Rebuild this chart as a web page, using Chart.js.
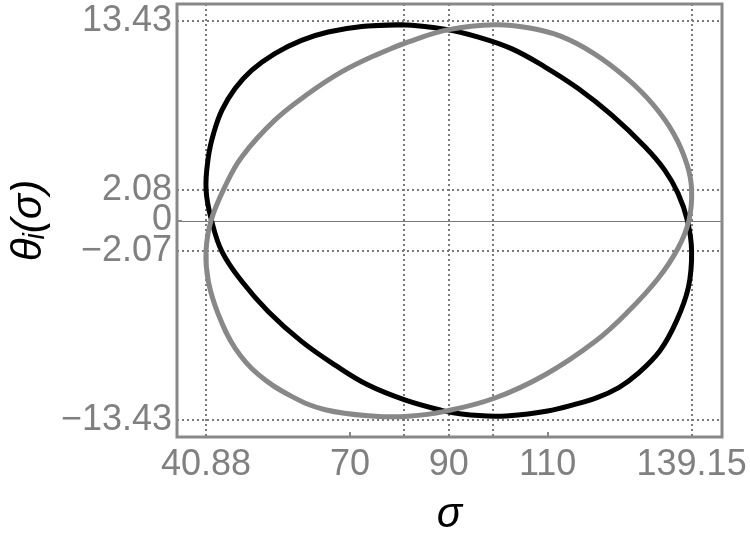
<!DOCTYPE html>
<html>
<head>
<meta charset="utf-8">
<script src="https://cdn.jsdelivr.net/npm/chart.js@4.4.1/dist/chart.umd.min.js"></script>
<style>
  html, body { margin: 0; padding: 0; background: #fff; }
  #wrap { width: 750px; height: 541px; position: relative; }
</style>
</head>
<body>
<div id="wrap"><canvas id="plot"></canvas></div>
<script>
// black curve (clockwise, first two points repeated to close)
const blackSigma = [72.4, 80.5, 89.2, 96.0, 102.7, 109.5, 116.2, 123.0, 129.7, 133.7, 136.4, 138.3, 139.15,
  138.5, 136.1, 132.7, 128.0, 124.5, 120.0, 115.0, 110.0, 104.5, 99.3, 92.6, 88.5, 81.1, 73.7, 67.0,
  60.2, 53.5, 48.1, 44.1, 42.0, 40.88, 41.35, 42.4, 44.1, 46.75, 50.1, 54.8, 60.2, 65.6, 72.4, 80.5];
const blackTheta = [13.09, 13.2, 12.9, 12.37, 11.59, 10.35, 8.9, 7.1, 4.97, 3.4, 1.83, 0.0, -2.07,
  -4.5, -6.77, -8.8, -10.4, -11.25, -11.95, -12.45, -12.85, -13.1, -13.2, -13.05, -12.8, -12.1, -11.1, -9.75,
  -8.15, -6.15, -4.1, -2.1, 0.0, 2.08, 4.29, 5.87, 7.44, 8.9, 10.13, 11.26, 12.15, 12.71, 13.09, 13.2];

// gray curve
const graySigma = [75.1, 81.8, 90.0, 99.35, 106.1, 112.5, 119.4, 126.0, 131.4, 135.5, 138.2, 139.15, 138.6,
  136.4, 132.4, 126.3, 119.6, 109.5, 99.35, 89.2, 81.8, 75.1, 65.0, 58.2, 51.5, 46.75, 43.4, 41.35,
  40.88, 41.9, 44.7, 48.1, 54.8, 61.6, 68.3, 75.1, 81.8];
const grayTheta = [11.14, 12.04, 12.87, 13.2, 13.0, 12.45, 11.26, 9.6, 7.8, 5.87, 3.8, 2.08, 0.0,
  -1.87, -3.89, -6.14, -8.16, -10.4, -11.97, -12.87, -13.2, -13.2, -12.76, -11.86, -10.4, -8.6, -6.36, -4.12,
  -2.07, 0.0, 2.28, 4.29, 6.77, 8.56, 10.02, 11.14, 12.04];

const xTicks = [40.88, 70, 90, 110, 139.15];
const xTickLabels = ["40.88", "70", "90", "110", "139.15"];
const yTicks = [-13.43, -2.07, 0, 2.08, 13.43];
const yTickLabels = ["\u221213.43", "\u22122.07", "0", "2.08", "13.43"];

// dotted guide lines
const xGuides = [40.88, 81, 90, 99, 139.15];
const yGuides = [-13.43, -2.07, 2.08, 13.43];

const toPoints = (xs, ys) => xs.map((x, i) => ({ x: x, y: ys[i] }));

const frame = {
  id: "frame",
  beforeDatasetsDraw(chart) {
    const { ctx, chartArea: a, scales: { x, y } } = chart;
    ctx.save();
    ctx.strokeStyle = "#7a7a7a";
    ctx.lineWidth = 2;
    ctx.setLineDash([2, 3]);
    xGuides.forEach(v => {
      const px = Math.round(x.getPixelForValue(v));
      ctx.beginPath(); ctx.moveTo(px, a.top); ctx.lineTo(px, a.bottom); ctx.stroke();
    });
    yGuides.forEach(v => {
      const py = Math.round(y.getPixelForValue(v));
      ctx.beginPath(); ctx.moveTo(a.left, py); ctx.lineTo(a.right, py); ctx.stroke();
    });
    ctx.setLineDash([]);
    ctx.strokeStyle = "#777";
    ctx.lineWidth = 1;
    const y0 = Math.round(y.getPixelForValue(0)) + 0.5;
    ctx.beginPath(); ctx.moveTo(a.left, y0); ctx.lineTo(a.right, y0); ctx.stroke();
    ctx.restore();
  },
  afterDraw(chart) {
    const { ctx, chartArea: a, scales: { x, y } } = chart;
    ctx.save();
    ctx.strokeStyle = "#888";
    ctx.lineWidth = 3;
    ctx.strokeRect(a.left, a.top, a.right - a.left, a.bottom - a.top);
    ctx.lineWidth = 2;
    [70, 110].forEach(v => {
      const px = Math.round(x.getPixelForValue(v));
      ctx.beginPath(); ctx.moveTo(px, a.bottom); ctx.lineTo(px, a.bottom - 5); ctx.stroke();
    });
    const py = Math.round(y.getPixelForValue(0));
    ctx.beginPath(); ctx.moveTo(a.left, py); ctx.lineTo(a.left + 5, py); ctx.stroke();
    ctx.restore();
  }
};

new Chart(document.getElementById("plot"), {
  type: "scatter",
  data: {
    datasets: [
      {
        label: "gray",
        data: toPoints(graySigma, grayTheta),
        showLine: true,
        borderColor: "#888",
        borderWidth: 5,
        pointRadius: 0,
        tension: 0.4,
      },
      {
        label: "black",
        data: toPoints(blackSigma, blackTheta),
        showLine: true,
        borderColor: "#000",
        borderWidth: 5,
        pointRadius: 0,
        tension: 0.4,
      },
    ],
  },
  options: {
    responsive: true,
    maintainAspectRatio: false,
    animation: false,
    layout: { padding: { top: 4, right: 28, bottom: 0, left: 0 } },
    plugins: { legend: { display: false }, tooltip: { enabled: false } },
    scales: {
      x: {
        type: "linear",
        min: 35,
        max: 145.3,
        grid: { display: false, drawTicks: false },
        border: { display: false },
        afterFit: s => { s.height = 104; s.paddingLeft = 0; s.paddingRight = 0; },
        afterBuildTicks: s => { s.ticks = xTicks.map(v => ({ value: v })); },
        ticks: {
          autoSkip: false,
          maxRotation: 0,
          padding: 6,
          color: "#808080",
          font: { family: "'Liberation Sans', Arial, sans-serif", size: 36 },
          callback: v => xTickLabels[xTicks.indexOf(v)],
        },
        title: {
          display: true,
          text: "σ",
          color: "#000",
          padding: { top: 0, bottom: 0 },
          font: { family: "'Liberation Sans', Arial, sans-serif", size: 42, style: "italic" },
        },
      },
      y: {
        type: "linear",
        min: -14.6,
        max: 14.6,
        grid: { display: false, drawTicks: false },
        border: { display: false },
        afterFit: s => { s.width = 177; s.paddingTop = 0; s.paddingBottom = 0; },
        afterBuildTicks: s => { s.ticks = yTicks.map(v => ({ value: v })); },
        ticks: {
          autoSkip: false,
          padding: 5,
          color: "#808080",
          font: { family: "'Liberation Sans', Arial, sans-serif", size: 36 },
          callback: v => yTickLabels[yTicks.indexOf(v)],
        },
        title: {
          display: true,
          text: "θᵢ(σ)",
          color: "#000",
          padding: { top: 4, bottom: 0 },
          font: { family: "'Liberation Sans', Arial, sans-serif", size: 42, style: "italic" },
        },
      },
    },
  },
  plugins: [frame],
});
</script>
</body>
</html>
